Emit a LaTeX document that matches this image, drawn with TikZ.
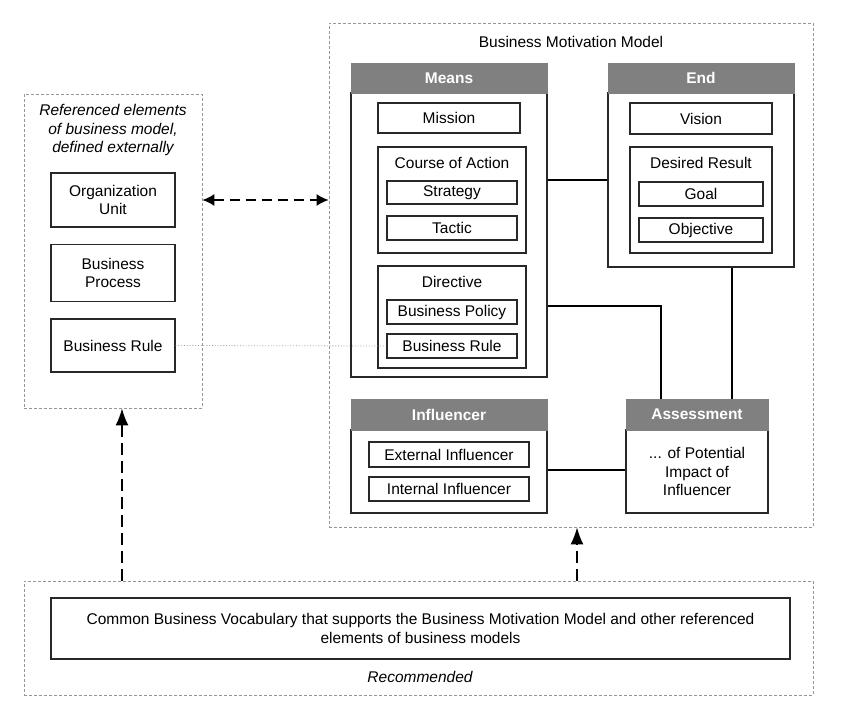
\documentclass[tikz,border=0pt]{standalone}
\usepackage{fontspec}
\setmainfont{Liberation Sans}
\usetikzlibrary{arrows.meta}
\definecolor{boxline}{RGB}{40,40,40}
\definecolor{headgray}{RGB}{128,128,128}
\definecolor{dashgray}{RGB}{150,150,150}
\begin{document}
\begin{tikzpicture}[x=1pt, y=-1pt,
	every node/.style={font=\fontsize{15.5}{18.5}\selectfont, inner sep=0pt},
	box/.style={draw=boxline, line width=1.3pt, fill=white, minimum width=#1},
	head/.style={fill=headgray, draw=headgray, text=white, font=\fontsize{15.5}{18.5}\selectfont\bfseries, minimum width=#1, minimum height=30},
	dashbox/.style={draw=dashgray, dash pattern=on 3pt off 2pt, line width=0.8pt},
	link/.style={draw=black, line width=1.8pt},
	upflow/.style={line width=1.5pt, dash pattern=on 12pt off 6pt, -{Latex[length=17pt, width=13pt]}}]
	\useasboundingbox (0,0) rectangle (849,701);
	% referenced elements
	\node[dashbox, minimum width=178, minimum height=314] (refbox) at (113,251) {};
	\node[align=center, font=\fontsize{15.5}{18.5}\selectfont\itshape] (reftitle) at (113,130) {Referenced elements\\of business model,\\defined externally};
	\node[box=124, minimum height=54, align=center] (orgunit) at (113,200) {Organization\\Unit};
	\node[box=124, minimum height=57, align=center] (bproc) at (113,273) {Business\\Process};
	\node[box=124, minimum height=53] (brule1) at (113,345.5) {Business Rule};
	% business motivation model
	\node[dashbox, minimum width=484, minimum height=504] (bmm) at (571,275) {};
	\node (bmmtitle) at (571,42) {Business Motivation Model};
	% means
	\node[box=196, minimum height=284] (meansbody) at (449,235) {};
	\node[head=196] (meanshead) at (449,78) {Means};
	\node[box=142, minimum height=30] (mission) at (449,118) {Mission};
	\node[box=148, minimum height=106] (coa) at (452,200) {};
	\node (coatitle) at (452,163) {Course of Action};
	\node[box=130, minimum height=23] (strategy) at (452,192.5) {Strategy};
	\node[box=130, minimum height=24] (tactic) at (452,228) {Tactic};
	\node[box=148, minimum height=102] (directive) at (452,317) {};
	\node (dirtitle) at (452,282) {Directive};
	\node[box=130, minimum height=24] (policy) at (452,312) {Business Policy};
	\node[box=130, minimum height=24] (brule2) at (452,346) {Business Rule};
	% end
	\node[box=186, minimum height=174] (endbody) at (701,180) {};
	\node[head=186] (endhead) at (701,78) {End};
	\node[box=142, minimum height=31] (vision) at (701,118.5) {Vision};
	\node[box=142, minimum height=106] (desres) at (701,200) {};
	\node (drtitle) at (701,163) {Desired Result};
	\node[box=124, minimum height=24] (goal) at (701,194) {Goal};
	\node[box=124, minimum height=24] (objective) at (701,230) {Objective};
	% influencer and assessment
	\node[box=196, minimum height=83] (inflbody) at (449,471.5) {};
	\node[head=196, minimum height=31] (inflhead) at (449,414.5) {Influencer};
	\node[box=160, minimum height=25] (extinfl) at (449,454.5) {External Influencer};
	\node[box=160, minimum height=24] (intinfl) at (449,489) {Internal Influencer};
	\node[box=142, minimum height=83, align=center] (assbody) at (697,471.5) {... of Potential\\Impact of\\Influencer};
	\node[head=142, minimum height=31] (asshead) at (697,414.5) {Assessment};
	% vocabulary
	\node[dashbox, minimum width=789, minimum height=114] (vocab) at (418.5,638) {};
	\node[box=739, minimum height=61, align=center] (vocabtext) at (420.5,628.5) {Common Business Vocabulary that supports the Business Motivation Model and other referenced\\elements of business models};
	\node[font=\fontsize{15.5}{18.5}\selectfont\itshape] (recommended) at (420,677) {Recommended};
	% connectors
	\coordinate (j1) at (661,306);
	\coordinate (j2) at (732,0);
	\coordinate (j3) at (122,0);
	\coordinate (j4) at (577,0);
	\coordinate (j5) at (0,470);
	\draw[link] (meansbody.east |- 0,180) -- (endbody.west |- 0,180);
	\draw[link] (meansbody.east |- j1) -| (asshead.north -| j1);
	\draw[link] (endbody.south -| j2) -- (asshead.north -| j2);
	\draw[link] (inflbody.east |- j5) -- (assbody.west |- j5);
	\draw[dashgray, line width=0.8pt, dotted] (brule1.east) -- (brule2.west);
	\draw[line width=1.5pt, dash pattern=on 10pt off 6pt, {Latex[length=12pt, width=12pt]}-{Latex[length=12pt, width=12pt]}] (refbox.east |- orgunit) -- (bmm.west |- orgunit);
	\draw[upflow] (vocab.north -| j3) -- (refbox.south -| j3);
	\draw[upflow] (vocab.north -| j4) -- (bmm.south -| j4);
\end{tikzpicture}
\end{document}
